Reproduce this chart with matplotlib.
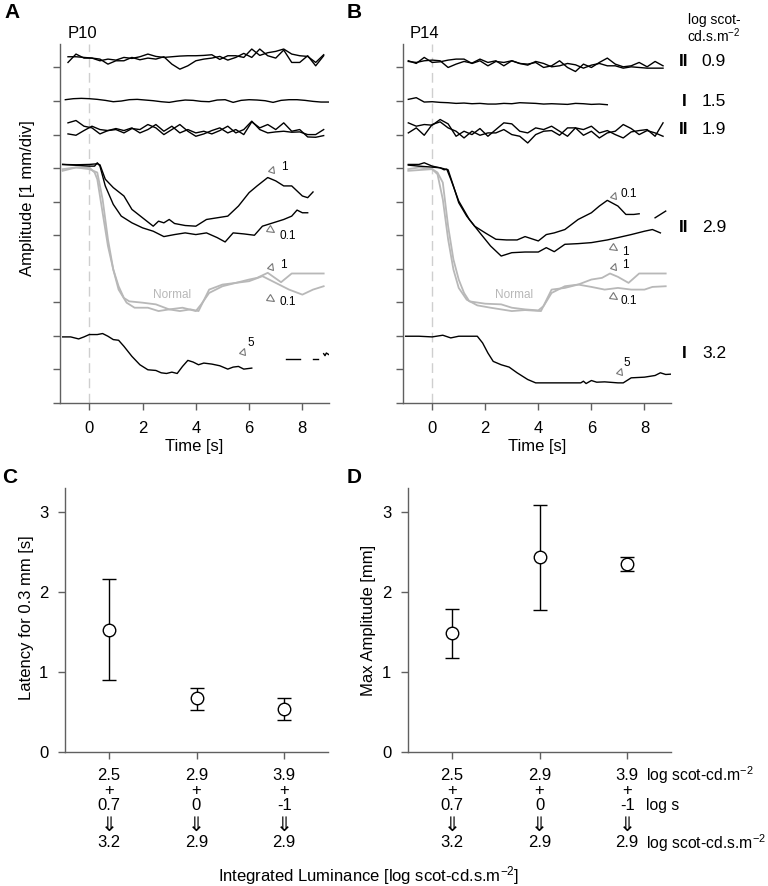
import numpy as np
import matplotlib
matplotlib.use('Agg')
import matplotlib.pyplot as plt
from matplotlib.markers import MarkerStyle
from matplotlib.transforms import Affine2D

plt.rcParams['font.family'] = ['Liberation Sans', 'DejaVu Sans']
plt.rcParams['mathtext.fontset'] = 'custom'
plt.rcParams['mathtext.rm'] = 'Liberation Sans'
plt.rcParams['mathtext.it'] = 'Liberation Sans:italic'
plt.rcParams['font.size'] = 12

'''
TRACE DATA (amplitude in mm, offset by 1 mm per division)
'''
# noisy traces sampled every 0.3 s
t_noisy = np.linspace(-0.8, 8.8, 33)
t_flat_a = np.linspace(-0.9, 9.0, 34)
t_flat_b = np.linspace(-0.9, 6.6, 26)
t_noisy_b = np.linspace(-0.9, 8.7, 33)

# P10
a09_1 = [10.32, 10.32, 10.30, 10.28, 10.20, 10.25, 10.22, 10.30, 10.27, 10.32, 10.40, 10.33, 10.30, 10.32, 10.34, 10.35, 10.35,
         10.36, 10.38, 10.24, 10.35, 10.35, 10.30, 10.55, 10.36, 10.44, 10.48, 10.55, 10.40, 10.35, 10.33, 10.15, 10.38]
a09_2 = [10.15, 10.40, 10.28, 10.28, 10.25, 10.10, 10.20, 10.20, 10.30, 10.23, 10.28, 10.25, 10.32, 10.10, 9.95, 10.05, 10.20,
         10.25, 10.28, 10.33, 10.22, 10.30, 10.42, 10.30, 10.55, 10.35, 10.28, 10.52, 10.15, 10.15, 10.35, 10.05, 10.35]
a15 = [9.04, 9.07, 9.08, 9.07, 9.05, 9.02, 8.98, 9.00, 9.04, 9.05, 9.03, 9.01, 8.98, 8.96, 9.00, 9.03, 9.02,
       8.99, 8.98, 9.03, 9.04, 8.96, 9.02, 9.04, 9.03, 9.01, 8.96, 9.02, 9.04, 9.04, 9.02, 8.99, 8.97, 8.97]
a19_1 = [8.35, 8.42, 8.25, 8.20, 8.02, 8.12, 8.18, 8.12, 8.20, 8.05, 8.15, 8.30, 8.10, 8.25, 8.05, 8.15, 8.05,
         8.10, 8.02, 8.12, 8.25, 8.05, 8.15, 8.40, 8.15, 8.05, 8.08, 8.10, 8.07, 8.08, 8.00, 8.00, 8.15]
a19_2 = [8.02, 7.98, 8.12, 8.25, 8.15, 8.12, 8.15, 8.05, 8.18, 8.15, 8.30, 8.20, 8.00, 8.15, 8.30, 8.10, 7.95,
         8.02, 8.12, 8.20, 8.05, 8.15, 8.00, 8.38, 8.20, 8.30, 8.15, 8.35, 8.10, 8.15, 7.93, 7.92, 7.97]

a29_1_t = [-1.0, -0.5, 0.0, 0.3, 0.4, 0.6, 0.9, 1.3, 1.6, 2.0, 2.4, 2.6, 2.8, 3.0, 3.2, 3.6, 4.0, 4.4, 4.8,
           5.2, 5.6, 6.0, 6.3, 6.7, 7.0, 7.3, 7.6, 8.0, 8.2, 8.4]
a29_1 = [7.11, 7.10, 7.11, 7.13, 7.10, 6.67, 6.42, 6.17, 5.77, 5.52, 5.27, 5.42, 5.37, 5.47, 5.35, 5.29, 5.27, 5.47, 5.52,
         5.57, 5.87, 6.27, 6.47, 6.72, 6.62, 6.47, 6.47, 6.17, 6.12, 6.29]
a29_2_t = [-1.0, 0.0, 0.2, 0.3, 0.4, 0.6, 0.9, 1.2, 1.6, 2.0, 2.4, 2.8, 3.2, 3.6, 4.0, 4.4, 4.8, 5.1, 5.4,
           5.8, 6.2, 6.5, 6.9, 7.3, 7.6, 7.8, 8.0, 8.2]
a29_2 = [7.11, 7.06, 7.06, 7.16, 7.06, 6.47, 5.92, 5.57, 5.37, 5.22, 5.12, 4.96, 5.02, 5.07, 5.02, 5.07, 4.93, 4.80, 5.07,
         5.04, 5.00, 5.27, 5.37, 5.47, 5.57, 5.75, 5.67, 5.67]
a_norm_1_t = [-1.0, -0.5, 0.0, 0.2, 0.3, 0.5, 0.7, 0.9, 1.1, 1.3, 1.5, 2.0, 2.5, 3.0, 3.5, 4.0, 4.2, 4.5, 5.0,
              5.5, 6.0, 6.3, 6.7, 7.2, 7.6, 8.0, 8.8]
a_norm_1 = [6.97, 7.02, 7.02, 6.87, 6.67, 5.67, 4.68, 3.98, 3.48, 3.13, 3.03, 2.99, 2.94, 2.79, 2.84, 2.74, 2.94, 3.28, 3.48,
            3.58, 3.68, 3.73, 3.88, 3.60, 3.86, 3.86, 3.86]
a_norm_2_t = [-1.0, -0.5, 0.0, 0.3, 0.5, 0.7, 0.9, 1.1, 1.4, 1.7, 2.2, 2.6, 3.0, 3.4, 3.8, 4.1, 4.5, 5.0,
              5.5, 6.0, 6.5, 7.0, 7.5, 8.0, 8.4, 8.8]
a_norm_2 = [6.92, 7.02, 6.97, 6.87, 6.07, 4.88, 3.98, 3.38, 2.99, 2.84, 2.84, 2.74, 2.79, 2.74, 2.79, 2.74, 3.38, 3.53,
            3.58, 3.63, 3.78, 3.58, 3.38, 3.23, 3.38, 3.48]
a32_t = [-1.0, -0.7, -0.4, -0.2, 0.0, 0.3, 0.5, 0.7, 0.9, 1.1, 1.3, 1.6, 1.9, 2.2, 2.5, 2.7, 2.9, 3.1, 3.3,
         3.5, 3.7, 3.9, 4.1, 4.3, 4.6, 4.9, 5.2, 5.4, 5.6, 5.8, 6.1]
a32 = [1.97, 1.97, 1.91, 1.97, 2.04, 2.04, 2.07, 1.99, 1.89, 1.87, 1.69, 1.39, 1.14, 0.99, 0.97, 0.90, 0.88, 0.92, 0.88,
       1.09, 1.27, 1.22, 1.14, 1.19, 1.16, 1.11, 1.01, 1.07, 1.09, 1.01, 1.04]
a32_frag = [([7.4, 7.9], [1.31, 1.31]), ([8.4, 8.6], [1.31, 1.31]), ([8.8, 8.85, 8.9, 9.0], [1.47, 1.41, 1.49, 1.44])]

# P14
b09_1 = [10.20, 10.12, 10.30, 10.15, 10.17, 10.22, 10.25, 10.25, 10.12, 10.20, 10.05, 10.18, 10.15, 10.20, 10.12, 10.10, 10.15,
         10.00, 10.05, 10.20, 10.00, 9.88, 10.10, 10.00, 10.15, 10.28, 10.10, 10.02, 10.05, 10.15, 10.02, 10.18, 10.05]
b09_2 = [10.18, 10.15, 10.20, 10.22, 10.20, 10.00, 10.10, 10.18, 10.13, 10.25, 10.15, 10.20, 10.05, 10.20, 10.12, 10.07, 10.18,
         10.12, 10.02, 10.05, 10.12, 10.08, 9.98, 10.07, 10.12, 10.05, 10.05, 9.98, 10.02, 10.00, 9.98, 9.98, 9.98]
b15 = [9.05, 9.10, 8.97, 8.98, 8.96, 8.95, 8.93, 8.94, 8.92, 8.93, 8.91, 8.91, 8.93,
       8.92, 8.95, 8.94, 8.93, 8.91, 8.92, 8.91, 8.90, 8.93, 8.92, 8.90, 8.91, 8.89]
b19_1 = [8.35, 8.25, 8.30, 8.28, 8.45, 8.32, 7.95, 8.10, 8.00, 8.18, 7.95, 8.15, 8.35, 8.32, 8.10, 8.05, 8.20,
         8.15, 8.25, 8.10, 7.95, 8.20, 7.98, 8.10, 7.90, 8.05, 8.10, 8.30, 8.18, 8.00, 8.12, 8.05, 7.95]
b19_2 = [8.05, 8.20, 7.98, 8.30, 8.38, 8.20, 8.10, 7.90, 8.10, 7.98, 8.05, 8.05, 8.15, 8.00, 7.95, 7.75, 8.00,
         8.10, 8.12, 7.98, 8.20, 8.20, 8.15, 8.25, 8.05, 8.12, 8.00, 7.90, 8.08, 8.12, 8.15, 7.95, 8.35]

b29_1_t = [-0.9, -0.5, -0.3, 0.0, 0.3, 0.5, 0.6, 0.8, 1.0, 1.3, 1.6, 2.0, 2.4, 2.8, 3.2, 3.5, 4.0, 4.3, 4.6,
           5.0, 5.5, 6.0, 6.3, 6.6, 7.0, 7.3, 7.6, 7.8]
b29_1 = [7.11, 7.11, 7.16, 7.06, 7.01, 6.97, 6.95, 6.47, 5.97, 5.57, 5.27, 5.07, 4.88, 4.86, 4.86, 4.96, 4.83, 5.02, 5.07,
         5.17, 5.47, 5.67, 5.87, 6.04, 5.87, 5.62, 5.62, 5.64]
b29_1_frag = ([8.4, 8.8], [5.52, 5.72])
b29_2_t = [-0.9, -0.5, 0.0, 0.3, 0.45, 0.55, 0.7, 1.0, 1.4, 1.8, 2.2, 2.6, 3.0, 3.5, 4.0, 4.3, 4.6, 5.0,
           5.5, 6.0, 6.6, 7.0, 7.5, 8.0, 8.3, 8.6]
b29_2 = [7.09, 7.06, 7.03, 7.01, 6.95, 6.97, 6.67, 6.02, 5.47, 5.07, 4.68, 4.38, 4.48, 4.50, 4.50, 4.63, 4.51, 4.73,
         4.75, 4.78, 4.86, 4.93, 5.02, 5.12, 5.17, 5.07]
b_norm_1_t = [-0.9, -0.5, 0.0, 0.2, 0.4, 0.6, 0.8, 1.0, 1.2, 1.4, 2.0, 2.6, 3.0, 3.5, 4.0, 4.2, 4.5, 5.0,
              5.5, 6.0, 6.4, 6.7, 7.0, 7.4, 7.8, 8.8]
b_norm_1 = [6.97, 7.02, 6.97, 6.87, 6.57, 5.27, 4.28, 3.68, 3.28, 3.03, 2.96, 2.94, 2.84, 2.79, 2.76, 2.89, 3.28, 3.48,
            3.53, 3.68, 3.73, 3.86, 3.76, 3.58, 3.86, 3.86]
b_norm_2_t = [-0.9, 0.0, 0.2, 0.4, 0.6, 0.8, 1.0, 1.3, 1.7, 2.2, 2.6, 3.0, 3.5, 4.1, 4.5, 5.0,
              5.5, 6.0, 6.5, 7.0, 7.5, 8.0, 8.3, 8.8]
b_norm_2 = [6.92, 6.97, 6.82, 6.07, 4.88, 3.98, 3.43, 3.08, 2.91, 2.84, 2.79, 2.74, 2.77, 2.74, 3.38, 3.43,
            3.53, 3.46, 3.38, 3.43, 3.38, 3.38, 3.46, 3.48]
b32_t = [-1.0, -0.5, 0.0, 0.4, 0.7, 1.0, 1.7, 1.9, 2.1, 2.3, 2.6, 2.9, 3.2, 3.6, 3.9, 4.5, 5.0, 5.6, 5.7,
         5.8, 6.0, 6.2, 6.5, 7.0, 7.2, 7.5, 8.0, 8.4, 8.6, 8.8, 9.0]
b32 = [1.99, 1.99, 1.97, 2.02, 1.94, 1.99, 1.99, 1.79, 1.49, 1.24, 1.14, 1.07, 0.90, 0.70, 0.60, 0.60, 0.60, 0.60, 0.65,
       0.58, 0.67, 0.62, 0.63, 0.60, 0.60, 0.75, 0.77, 0.82, 0.90, 0.85, 0.86]

'''
SUMMARY DATA (C and D)
'''
lum = ['2.5', '2.9', '3.9']
dur = ['0.7', '0', '-1']
integ = ['3.2', '2.9', '2.9']
lat_mean = [1.53, 0.67, 0.54]
lat_lo = [0.90, 0.53, 0.40]
lat_hi = [2.16, 0.80, 0.68]
amp_mean = [1.49, 2.44, 2.35]
amp_lo = [1.18, 1.78, 2.26]
amp_hi = [1.79, 3.09, 2.44]

W, H = 768, 886
fig = plt.figure(figsize=(W / 100, H / 100), dpi=100)
spine_c = '#606060'
grey = '#b8b8b8'


def fx(x):
    return x / W


def fy(y):
    return 1 - y / H


def clean(ax):
    for s in ['top', 'right']:
        ax.spines[s].set_visible(False)
    for s in ['left', 'bottom']:
        ax.spines[s].set_color(spine_c)
        ax.spines[s].set_linewidth(1.0)
    ax.tick_params(length=5, color=spine_c, width=1.0)


def trace_axes(left, right):
    ax = fig.add_axes([fx(left), fy(403), (right - left) / W, 359 / H])
    clean(ax)
    ax.set_xlim(-1.1, 9.0)
    ax.set_ylim(0, 10.7)
    ax.set_yticks(range(11))
    ax.set_yticklabels([])
    ax.set_xticks([0, 2, 4, 6, 8])
    ax.tick_params(axis='x', pad=8)
    ax.axvline(0, color='#cfcfcf', lw=1.0, dashes=(7, 4), zorder=0)
    ax.set_xlabel('Time [s]', labelpad=2)
    return ax


def tri(ax, x, y, rot):
    m = MarkerStyle('>', fillstyle='none', transform=Affine2D().rotate_deg(rot))
    ax.plot([x], [y], marker=m, ms=5, color='#777777', mew=0.8, ls='none')


def small(ax, x, y, s):
    ax.text(x, y, s, fontsize=8.5, ha='left', va='center')


UP, DOWN = 75, -30
blk = dict(color='black', lw=1.0)
gry = dict(color=grey, lw=1.3)

# ---------------- A ----------------
axA = trace_axes(60, 329)
axA.plot(t_noisy, a09_1, **blk)
axA.plot(t_noisy, a09_2, **blk)
axA.plot(t_flat_a, a15, **blk)
axA.plot(t_noisy, a19_1, **blk)
axA.plot(t_noisy, a19_2, **blk)
axA.plot(a_norm_1_t, a_norm_1, **gry)
axA.plot(a_norm_2_t, a_norm_2, **gry)
axA.plot(a29_1_t, a29_1, **blk)
axA.plot(a29_2_t, a29_2, **blk)
axA.plot(a32_t, a32, **blk)
for ft, fv in a32_frag:
    axA.plot(ft, fv, **blk)
axA.text(3.1, 3.23, 'Normal', color=grey, fontsize=8.5, ha='center', va='center')
tri(axA, 6.87, 6.97, UP); small(axA, 7.2, 7.02, '1')
tri(axA, 6.83, 5.15, DOWN); small(axA, 7.15, 4.98, '0.1')
tri(axA, 6.83, 4.08, UP); small(axA, 7.15, 4.10, '1')
tri(axA, 6.83, 3.11, DOWN); small(axA, 7.15, 3.00, '0.1')
tri(axA, 5.78, 1.54, UP); small(axA, 5.95, 1.80, '5')

# ---------------- B ----------------
axB = trace_axes(403, 671)
axB.plot(t_noisy_b, b09_1, **blk)
axB.plot(t_noisy_b, b09_2, **blk)
axB.plot(t_flat_b, b15, **blk)
axB.plot(t_noisy_b, b19_1, **blk)
axB.plot(t_noisy_b, b19_2, **blk)
axB.plot(b_norm_1_t, b_norm_1, **gry)
axB.plot(b_norm_2_t, b_norm_2, **gry)
axB.plot(b29_1_t, b29_1, **blk)
axB.plot(*b29_1_frag, **blk)
axB.plot(b29_2_t, b29_2, **blk)
axB.plot(b32_t, b32, **blk)
axB.text(3.1, 3.23, 'Normal', color=grey, fontsize=8.5, ha='center', va='center')
tri(axB, 6.86, 6.20, UP); small(axB, 7.1, 6.22, '0.1')
tri(axB, 6.84, 4.63, DOWN); small(axB, 7.15, 4.50, '1')
tri(axB, 6.84, 4.08, UP); small(axB, 7.15, 4.12, '1')
tri(axB, 6.84, 3.15, DOWN); small(axB, 7.1, 3.03, '0.1')
tri(axB, 7.08, 0.95, UP); small(axB, 7.2, 1.19, '5')

fig.text(fx(28), fy(198), 'Amplitude [1 mm/div]', rotation=90, ha='center', va='center')
fig.text(fx(68), fy(33), 'P10', ha='left', va='center')
fig.text(fx(410), fy(33), 'P14', ha='left', va='center')
fig.text(fx(714), fy(20), 'log scot-', ha='center', va='center', fontsize=10)
fig.text(fx(714), fy(36), 'cd.s.m$^{-2}$', ha='center', va='center', fontsize=10)
stim_labels = [('II', '0.9', 62), ('I', '1.5', 101), ('II', '1.9', 130), ('II', '2.9', 228), ('I', '3.2', 354)]
for rom, val, ypx in stim_labels:
    fig.text(fx(684), fy(ypx), rom, ha='center', va='center', fontsize=12.5, weight='bold')
    fig.text(fx(714), fy(ypx), val, ha='center', va='center', fontsize=12.5)

# ---------------- C & D ----------------
def summary_axes(left, mean, lo, hi):
    ax = fig.add_axes([fx(left), fy(752), 263 / W, 264 / H])
    clean(ax)
    ax.set_xlim(0.5, 3.5)
    ax.set_ylim(0, 3.3)
    ax.set_yticks([0, 1, 2, 3])
    ax.set_xticks([1, 2, 3])
    ax.set_xticklabels([])
    ax.tick_params(axis='y', pad=7)
    x = np.arange(1, 4)
    mean = np.array(mean)
    err = [mean - np.array(lo), np.array(hi) - mean]
    ax.errorbar(x, mean, yerr=err, fmt='o', ms=9, mfc='white', mec='black', mew=1.0,
                ecolor='black', elinewidth=1.0, capsize=5, capthick=1.0, color='black')
    rows = [(lum, 16.6), (['+'] * 3, 27.4), (dur, 38.2), (integ, 65.5)]
    for labels, off in rows:
        for xi, s in zip(x, labels):
            ax.annotate(s, xy=(xi, 0), xycoords=('data', 'axes fraction'), xytext=(0, -off),
                        textcoords='offset points', ha='center', va='center', fontsize=12)
    for xi in x:
        ax.annotate('\u21d3', xy=(xi, 0), xycoords=('data', 'axes fraction'), xytext=(0, -53.0),
                    textcoords='offset points', ha='center', va='center', fontsize=14.5,
                    family='DejaVu Sans')
    return ax


axC = summary_axes(65, lat_mean, lat_lo, lat_hi)
axD = summary_axes(408, amp_mean, amp_lo, amp_hi)
fig.text(fx(27), fy(618), 'Latency for 0.3 mm [s]', rotation=90, ha='center', va='center')
fig.text(fx(368), fy(620), 'Max Amplitude [mm]', rotation=90, ha='center', va='center')
for s, off in [('log scot-cd.m$^{-2}$', 16.6), ('log s', 38.2), ('log scot-cd.s.m$^{-2}$', 65.5)]:
    axD.annotate(s, xy=(3, 0), xycoords=('data', 'axes fraction'), xytext=(13.5, -off),
                 textcoords='offset points', ha='left', va='center', fontsize=11.3)

fig.text(fx(369), fy(876), 'Integrated Luminance [log scot-cd.s.m$^{-2}$]', ha='center', va='center')

for lab, xp, yp in [('A', 12, 12), ('B', 354, 12), ('C', 10, 478), ('D', 354, 478)]:
    fig.text(fx(xp), fy(yp), lab, ha='center', va='center', fontsize=15, weight='bold')

fig.savefig('out.png', dpi=100)
